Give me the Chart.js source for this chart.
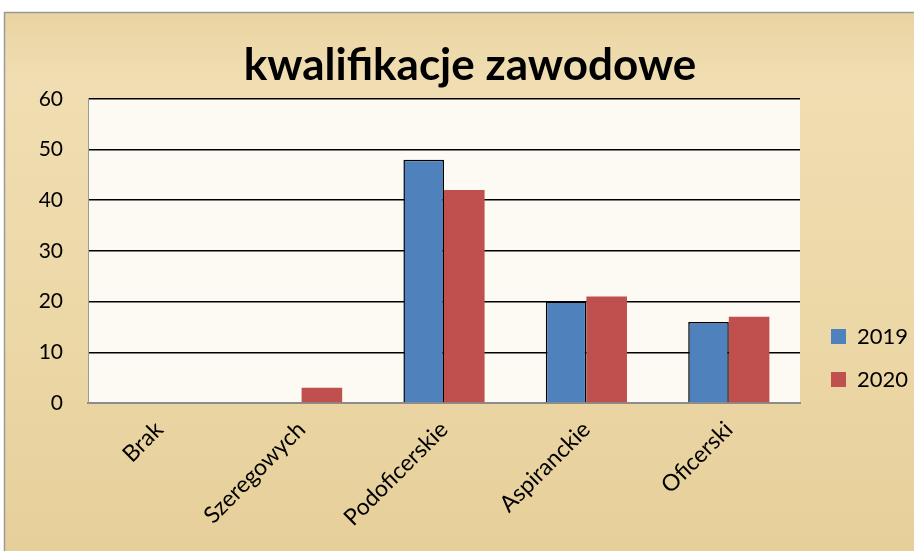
<!DOCTYPE html>
<html>
<head>
<meta charset="utf-8">
<script src="https://cdn.jsdelivr.net/npm/chart.js@4/dist/chart.umd.min.js"></script>
<style>
  body { margin: 0; background: #fff; }
  #wrap { width: 914px; height: 551px; }
</style>
</head>
<body>
<div id="wrap"><canvas id="kwalifikacje" width="914" height="551"></canvas></div>
<script>
const categories = ['Brak', 'Szeregowych', 'Podoficerskie', 'Aspiranckie', 'Oficerski']
const values2019 = [0, 0, 48, 20, 16]
const values2020 = [0, 3, 42, 21, 17]
const yTicks = [0, 10, 20, 30, 40, 50, 60]

// parchment background + light plot area
const paper = {
    id: 'paper',
    afterInit(chart) {
        // legend column is a fixed 114px wide, like the original
        const lg = chart.legend
        const fit = lg.fit
        lg.fit = function () { fit.call(this); this.width = 114 }
    },
    afterLayout(chart) {
        // nudge legend and title a bit to the right
        chart.legend.left += 10
        chart.legend.right += 10
        chart.titleBlock.left += 26
        chart.titleBlock.right += 0
    },
    beforeDraw(chart) {
        const c = chart.ctx
        const a = chart.chartArea
        c.save()
        c.fillStyle = '#fff'
        c.fillRect(0, 0, chart.width, chart.height)
        const g = c.createLinearGradient(0, 12, 0, chart.height)
        g.addColorStop(0, '#e9d3a0')
        g.addColorStop(0.12, '#f0deb2')
        g.addColorStop(0.6, '#ecd7a6')
        g.addColorStop(1, '#e6cf9a')
        c.fillStyle = g
        c.fillRect(4, 12, chart.width - 4, chart.height - 12)
        c.strokeStyle = '#9a9a9a'
        c.lineWidth = 1.5
        c.strokeRect(4.5, 12.5, chart.width, chart.height)
        c.fillStyle = '#fdfaf3'
        c.fillRect(a.left, a.top, a.right - a.left, a.bottom - a.top)
        c.restore()
    }
}

new Chart(document.getElementById('kwalifikacje').getContext('2d'), {
    type: 'bar',
    data: {
        labels: categories,
        datasets: [
            {
                label: '2019',
                data: values2019,
                backgroundColor: '#4f81bd',
                borderColor: '#000',
                borderWidth: ctx => (ctx.raw === 0 ? 0 : 1.5),
                borderSkipped: 'bottom'
            },
            {
                label: '2020',
                data: values2020,
                backgroundColor: '#c0504d',
                borderWidth: 0
            }
        ]
    },
    options: {
        responsive: false,
        animation: false,
        categoryPercentage: 0.57,
        barPercentage: 1.0,
        layout: { padding: 0 },
        plugins: {
            title: {
                display: true,
                text: 'kwalifikacje zawodowe',
                color: '#000',
                font: { family: 'Lato', size: 44, weight: 'bold' },
                padding: { top: 39, bottom: 7 }
            },
            legend: {
                position: 'right',
                title: { display: true, text: ' ', padding: { top: 153, bottom: 0 }, font: { size: 10 } },
                labels: {
                    boxWidth: 15,
                    boxHeight: 15,
                    padding: 21,
                    color: '#000',
                    font: { family: 'Lato', size: 22 }
                }
            },
            tooltip: { enabled: false }
        },
        scales: {
            x: {
                afterFit: s => { s.height = 148 },
                grid: { display: false },
                border: { color: '#8c8c8c', width: 2 },
                ticks: {
                    minRotation: 45,
                    maxRotation: 45,
                    padding: 5,
                    color: '#000',
                    font: { family: 'Lato', size: 23 }
                }
            },
            y: {
                min: 0,
                max: 60,
                afterFit: s => { s.width = 88 },
                afterBuildTicks: s => { s.ticks = yTicks.map(v => ({ value: v })) },
                border: { color: '#9a9a9a', width: 1 },
                grid: {
                    drawTicks: false,
                    color: ctx => (ctx.tick && ctx.tick.value === 0 ? 'rgba(0,0,0,0)' : '#000'),
                    lineWidth: 1.5
                },
                ticks: {
                    padding: 25,
                    color: '#000',
                    font: { family: 'Lato', size: 21 }
                }
            }
        }
    },
    plugins: [paper]
})
</script>
</body>
</html>
